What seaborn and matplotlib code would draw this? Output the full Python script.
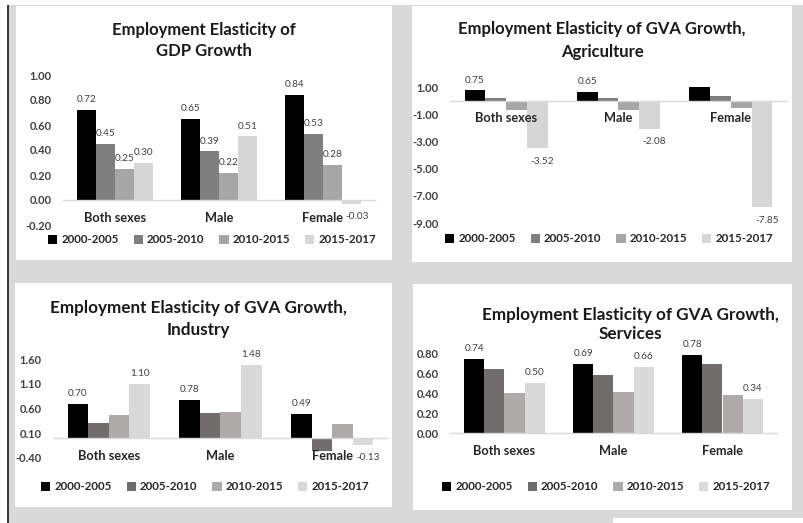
import numpy as np
import pandas as pd
import matplotlib.pyplot as plt
import seaborn as sns
from matplotlib.patches import Rectangle

# ==========================================
# 1. DADOS
# ==========================================
grupos = ['Both sexes', 'Male', 'Female']
periodos = ['2000-2005', '2005-2010', '2010-2015', '2015-2017']

# uma lista por período, na ordem de grupos
gdp = [[0.72, 0.65, 0.84], [0.45, 0.39, 0.53], [0.25, 0.22, 0.28], [0.30, 0.51, -0.03]]
agricultura = [[0.75, 0.65, 1.05], [0.22, 0.20, 0.32], [-0.66, -0.70, -0.58], [-3.52, -2.08, -7.85]]
industria = [[0.70, 0.78, 0.49], [0.30, 0.50, -0.25], [0.47, 0.52, 0.29], [1.10, 1.48, -0.13]]
servicos = [[0.74, 0.69, 0.78], [0.64, 0.58, 0.69], [0.40, 0.41, 0.38], [0.50, 0.66, 0.34]]

ticks_gdp = [-0.20, 0.00, 0.20, 0.40, 0.60, 0.80, 1.00]
ticks_agri = [-9.00, -7.00, -5.00, -3.00, -1.00, 1.00]
ticks_ind = [-0.40, 0.10, 0.60, 1.10, 1.60]
ticks_serv = [0.00, 0.20, 0.40, 0.60, 0.80]

titulos = [['Employment Elasticity of', 'GDP Growth'],
           ['Employment Elasticity of GVA Growth,', 'Agriculture'],
           ['Employment Elasticity of GVA Growth,', 'Industry'],
           ['Employment Elasticity of GVA Growth,', 'Services']]

cores_cima = ['#000000', '#7f7f7f', '#a6a6a6', '#d6d6d6']
cores_baixo = ['#000000', '#716d6d', '#aeaaaa', '#d9d9d9']

# ==========================================
# 2. LAYOUT (em pixels da imagem 804x523)
# ==========================================
W, H = 804, 523
sns.set_theme(style="white")
plt.rcParams['font.family'] = ['Lato', 'DejaVu Sans']

fig = plt.figure(figsize=(W / 100, H / 100), dpi=100)
fig.patch.set_facecolor('white')


def ret_px(x0, y0, x1, y1):
    return [x0 / W, 1 - y1 / H, (x1 - x0) / W, (y1 - y0) / H]


def caixa(x0, y0, x1, y1, cor, z=-10):
    r = ret_px(x0, y0, x1, y1)
    fig.add_artist(Rectangle((r[0], r[1]), r[2], r[3], transform=fig.transFigure,
                             facecolor=cor, edgecolor='none', zorder=z))


# fundo cinza, linha escura à esquerda e painéis brancos
caixa(9, 5, W, H, '#d9d9d9')
caixa(7, 5, 9, H, '#3a3a3a', z=-9)
caixa(16, 6, 392, 260, 'white', z=-8)
caixa(412, 6, 792, 262, 'white', z=-8)
caixa(15, 283, 392, 507, 'white', z=-8)
caixa(413, 284, 792, 510, 'white', z=-8)
caixa(613, 518, W, H, 'white', z=-8)

# titulo = (x centro, y linha 1, y linha 2, tamanho)
paineis = [
    dict(dados=gdp, ticks=ticks_gdp, cores=cores_cima, area=(63, 75, 375, 225),
         titulo=(204, 30, 51, 12), legenda=(212, 240), rotular=[0, 1, 2, 3]),
    dict(dados=agricultura, ticks=ticks_agri, cores=cores_cima, area=(450, 87, 787, 223),
         titulo=(602, 29, 52, 12), legenda=(609, 239), rotular=[0, 3]),
    dict(dados=industria, ticks=ticks_ind, cores=cores_baixo, area=(53, 359, 388, 458),
         titulo=(198, 308, 330, 12.3), legenda=(205, 487), rotular=[0, 3]),
    dict(dados=servicos, ticks=ticks_serv, cores=cores_baixo, area=(450, 353, 777, 433),
         titulo=(630, 315, 334, 12.3), legenda=(606, 487), rotular=[0, 3]),
]

# ==========================================
# 3. GRÁFICOS
# ==========================================
for titulo, p in zip(titulos, paineis):
    ax = fig.add_axes(ret_px(*p['area']))
    ax.set_facecolor('none')

    df = pd.DataFrame({
        'grupo': np.tile(grupos, len(periodos)),
        'periodo': np.repeat(periodos, len(grupos)),
        'valor': np.concatenate(p['dados']),
    })
    sns.barplot(data=df, x='grupo', y='valor', hue='periodo', order=grupos,
                hue_order=periodos, palette=p['cores'], width=0.74, saturation=1,
                errorbar=None, linewidth=0, legend=False, ax=ax)

    # eixo x cruzando em zero (antes de formatar os rótulos, pois recria os ticks)
    for s in ['left', 'right', 'top']:
        ax.spines[s].set_visible(False)
    ax.spines['bottom'].set_position(('data', 0))
    ax.spines['bottom'].set_color('#d9d9d9')
    ax.spines['bottom'].set_linewidth(1)
    ax.set_axisbelow(False)
    ax.xaxis.set_zorder(5)

    ymin, ymax = p['ticks'][0], p['ticks'][-1]
    ax.set_ylim(ymin, ymax)
    ax.set_yticks(p['ticks'])
    ax.set_yticklabels([f'{t:.2f}' for t in p['ticks']])
    ax.set_xticks(range(len(grupos)))
    ax.set_xticklabels(grupos)
    ax.tick_params(axis='y', length=0, pad=8, labelsize=8, labelcolor='#404040')
    ax.tick_params(axis='x', length=0, pad=8.5, labelsize=9.2, labelcolor='#262626')
    for lbl in ax.get_xticklabels() + ax.get_yticklabels():
        lbl.set_fontweight('bold')
    ax.set_xlabel('')
    ax.set_ylabel('')

    # rótulos de dados (negativos levemente à direita, como no original)
    for i, cont in enumerate(ax.containers):
        if i not in p['rotular']:
            continue
        for barra, v in zip(cont.patches, p['dados'][i]):
            if v > ymax or v < ymin:
                continue
            xc = barra.get_x() + barra.get_width() / 2
            if v >= 0:
                desloc, va = (0, 4), 'bottom'
            else:
                desloc, va = (3.5, -6), 'top'
            ax.annotate(f'{v:.2f}', (xc, v), xytext=desloc, textcoords='offset points',
                        ha='center', va=va, fontsize=7.2, color='#404040', zorder=6)

    # título em duas linhas separadas
    tx, ty1, ty2, fs = p['titulo']
    for linha, ty in zip(titulo, [ty1, ty2]):
        fig.text(tx / W, 1 - ty / H, linha, ha='center', va='center', fontsize=fs,
                 fontweight='bold', color='#1a1a1a')

    alcas = [Rectangle((0, 0), 1, 1, facecolor=c, edgecolor='none') for c in p['cores']]
    lx, ly = p['legenda']
    fig.legend(alcas, periodos, loc='center', bbox_to_anchor=(lx / W, 1 - ly / H),
               ncol=4, frameon=False, handlelength=0.8, handleheight=0.8,
               handletextpad=0.35, columnspacing=1.3,
               prop={'weight': 'bold', 'size': 8.3})

plt.savefig('out.png', dpi=100)
plt.close()
